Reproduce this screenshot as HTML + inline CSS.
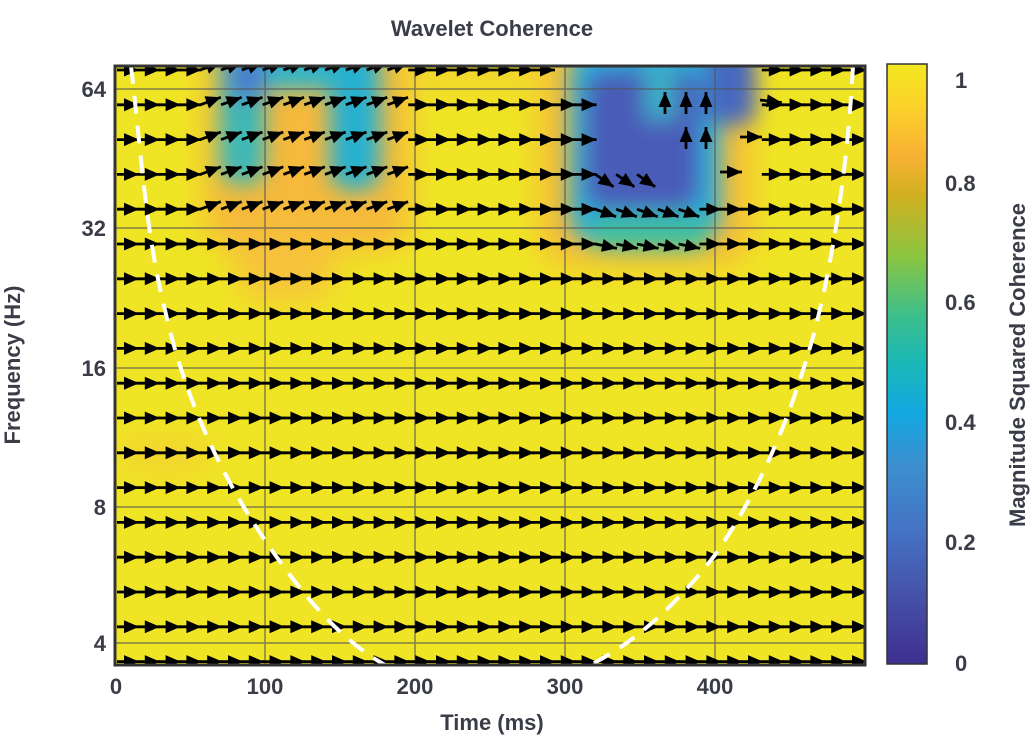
<!DOCTYPE html>
<html><head><meta charset="utf-8"><style>
body{margin:0;background:#fff;width:1034px;height:742px;overflow:hidden;font-family:"Liberation Sans",sans-serif}
</style></head><body>
<svg id="s" width="1034" height="742" xmlns="http://www.w3.org/2000/svg" font-family="Liberation Sans, sans-serif" font-weight="bold" fill="#3a3d48">
<defs>
<clipPath id="cp"><rect x="115" y="66" width="750" height="599"/></clipPath>
<filter id="bl" x="-50%" y="-50%" width="200%" height="200%"><feGaussianBlur stdDeviation="16"/></filter>
<filter id="bl2" x="-50%" y="-50%" width="200%" height="200%"><feGaussianBlur stdDeviation="11"/></filter>
<linearGradient id="cb" x1="0" y1="1" x2="0" y2="0">
<stop offset="0" stop-color="#3e2f90"/><stop offset="0.12" stop-color="#4653ab"/><stop offset="0.22" stop-color="#4472c4"/>
<stop offset="0.33" stop-color="#3d8fd0"/><stop offset="0.42" stop-color="#12a8e0"/><stop offset="0.5" stop-color="#1ab8b8"/>
<stop offset="0.58" stop-color="#3cbf8c"/><stop offset="0.68" stop-color="#8cc540"/><stop offset="0.78" stop-color="#d0b020"/>
<stop offset="0.85" stop-color="#f9b233"/><stop offset="0.93" stop-color="#fbd22a"/><stop offset="1" stop-color="#f3e81f"/>
</linearGradient>
</defs>
<text x="492" y="36" font-size="22" text-anchor="middle">Wavelet Coherence</text>
<g clip-path="url(#cp)">
<rect x="115" y="66" width="750" height="599" fill="#efe524"/>
<g filter="url(#bl)">
<rect x="205" y="40" width="205" height="210" rx="30" fill="#f6b93a"/>
<rect x="235" y="230" width="100" height="70" rx="30" fill="#f7c23a"/>
<rect x="540" y="40" width="210" height="225" rx="30" fill="#f6b93a"/>
<rect x="120" y="440" width="90" height="30" rx="15" fill="#f5d030"/>
<rect x="420" y="50" width="130" height="40" fill="#f2d52e"/>
</g>
<g filter="url(#bl2)">
<rect x="220" y="45" width="45" height="140" rx="20" fill="#3ab8b8"/>
<rect x="220" y="45" width="120" height="45" rx="15" fill="#30b4c8"/>
<rect x="330" y="45" width="50" height="145" rx="20" fill="#28b0d0"/>
<rect x="230" y="55" width="35" height="45" fill="#4c7ccc"/>
<rect x="570" y="45" width="150" height="200" rx="30" fill="#20aedc"/>
<rect x="585" y="70" width="115" height="140" rx="20" fill="#4a5cb8"/>
<rect x="645" y="60" width="30" height="60" fill="#3ab0c8"/>
<rect x="705" y="45" width="50" height="80" rx="15" fill="#4468c0"/>
<rect x="590" y="215" width="120" height="35" rx="15" fill="#3cbfa0"/>
</g>
<g stroke="#555" stroke-width="1.5" opacity="0.7">
<line x1="265" y1="66" x2="265" y2="665"/><line x1="415" y1="66" x2="415" y2="665"/><line x1="565" y1="66" x2="565" y2="665"/><line x1="715" y1="66" x2="715" y2="665"/>
<line x1="115" y1="89" x2="865" y2="89"/><line x1="115" y1="228" x2="865" y2="228"/><line x1="115" y1="368" x2="865" y2="368"/><line x1="115" y1="507" x2="865" y2="507"/><line x1="115" y1="643" x2="865" y2="643"/>
</g>
<g id="arr"></g>
<path d="M131,66 C140,140 145,230 165,310 C185,400 225,490 290,575 C320,615 350,645 385,665" fill="none" stroke="#fff" stroke-width="4" stroke-dasharray="18,12"/>
<path d="M853,66 C848,160 835,250 815,330 C790,420 760,490 715,555 C680,600 640,640 590,665" fill="none" stroke="#fff" stroke-width="4" stroke-dasharray="18,12"/>
</g>
<rect x="115" y="66" width="750" height="599" fill="none" stroke="#333" stroke-width="3"/>
<g font-size="22" text-anchor="end">
<text x="106" y="97">64</text><text x="106" y="236">32</text><text x="106" y="376">16</text><text x="106" y="515">8</text><text x="106" y="651">4</text>
</g>
<g font-size="22" text-anchor="middle">
<text x="116" y="694">0</text><text x="265" y="694">100</text><text x="415" y="694">200</text><text x="565" y="694">300</text><text x="715" y="694">400</text>
</g>
<text x="492" y="730" font-size="22" text-anchor="middle">Time (ms)</text>
<text transform="translate(20,365) rotate(-90)" font-size="22" text-anchor="middle">Frequency (Hz)</text>
<rect x="887" y="64" width="40" height="600" fill="url(#cb)" stroke="#333" stroke-width="1.5"/>
<g font-size="22">
<text x="955" y="88">1</text><text x="945" y="191">0.8</text><text x="945" y="310">0.6</text><text x="945" y="430">0.4</text><text x="945" y="550">0.2</text><text x="955" y="671">0</text>
</g>
<text transform="translate(1025,365) rotate(-90)" font-size="22" text-anchor="middle">Magnitude Squared Coherence</text>
</svg>
<script>
(function(){
var g=document.getElementById('arr'),h='';
var rows=[];for(var i=0;i<18;i++)rows.push(70+i*34.8);
function arrow(x,y,a){
 var L=22,c=Math.cos(a),s=Math.sin(a);
 var x2=x+L*c,y2=y+L*s;
 var bx=x2-15*c,by=y2-15*s;
 h+='<line x1="'+x+'" y1="'+y+'" x2="'+x2+'" y2="'+y2+'" stroke="#000" stroke-width="2.8"/>';
 h+='<polygon fill="#000" points="'+x2+','+y2+' '+(bx-6.5*s)+','+(by+6.5*c)+' '+(bx+6.5*s)+','+(by-6.5*c)+'"/>';
}
for(var r=0;r<rows.length;r++){
 for(var k=0;k<36;k++){
  var x=117+k*20.8,y=rows[r],a=0;
  if(r<=4&&x>185&&x<400){a=-0.35;}
  if(r>=1&&r<=4&&x>575&&x<745){ if(!(r==3&&(x>585&&x<640))&&!(r==4))continue; }
  if(r==3&&x>585&&x<640)a=0.6;
  if(r==4&&x>575&&x<690)a=0.35;
  if(r==5&&x>590&&x<690)a=0.2;
  if(r==0&&x>545&&x<745)continue;
  arrow(x,y,a);
 }
}
[[665,102],[686,102],[706,102],[686,137],[706,137]].forEach(function(p){arrow(p[0],p[1]+12,-Math.PI/2);});
arrow(760,100,0.12);arrow(740,137,0);arrow(720,172,0);
g.innerHTML=h;
})();
</script>
</body></html>
